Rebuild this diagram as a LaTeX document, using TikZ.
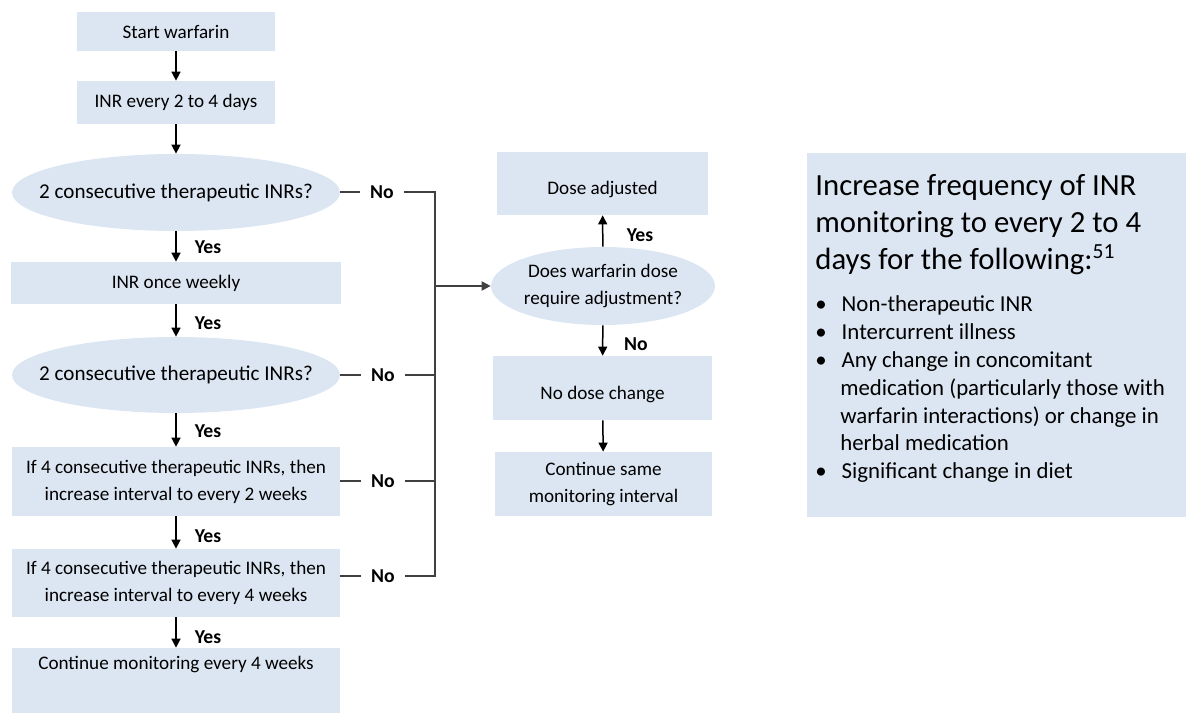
\documentclass[tikz,border=0pt]{standalone}
\usepackage{fontspec}
\setmainfont{Carlito}
\usepackage{enumitem}
\usetikzlibrary{shapes.geometric, arrows.meta}
\definecolor{boxblue}{HTML}{DCE6F2}
\definecolor{linegray}{HTML}{404040}

\begin{document}
\begin{tikzpicture}[x=0.2mm, y=-0.2mm,
    flowbox/.style={rectangle, fill=boxblue, inner sep=0pt, align=center, font=\fontsize{10.9}{15.4}\selectfont},
    decision/.style={ellipse, fill=boxblue, inner sep=0pt, align=center, font=\fontsize{12}{15.9}\selectfont},
    flowarrow/.style={line width=0.3mm, -{Triangle[length=1.8mm, width=1.8mm]}},
    noline/.style={linegray, line width=0.4mm},
    answer/.style={font=\bfseries\fontsize{11.2}{12}\selectfont},
    nolabel/.style={answer, fill=white, inner xsep=2mm, inner ysep=0pt, text=black}]

    \useasboundingbox (0,0) rectangle (1186,713);

    % Main column
    \node[flowbox, minimum width=39.6mm, minimum height=7.8mm] (start) at (176,31.5) {Start warfarin};
    \node[flowbox, minimum width=39.6mm, minimum height=8.6mm] (inr) at (176,102.5) {INR every 2 to 4 days};
    \node[decision, minimum width=65.6mm, minimum height=15.4mm] (q1) at (176,192.5) {\makebox[0pt]{2 consecutive therapeutic INRs?}};
    \node[flowbox, minimum width=66mm, minimum height=8.4mm] (weekly) at (176,283) {INR once weekly};
    \node[decision, minimum width=65.6mm, minimum height=15.2mm] (q2) at (176,375) {\makebox[0pt]{2 consecutive therapeutic INRs?}};
    \node[flowbox, minimum width=65.6mm, minimum height=13.8mm] (two) at (176,481.5) {If 4 consecutive therapeutic INRs, then\\increase interval to every 2 weeks};
    \node[flowbox, minimum width=65.6mm, minimum height=13.6mm] (four) at (176,583) {If 4 consecutive therapeutic INRs, then\\increase interval to every 4 weeks};
    \node[flowbox, minimum width=65.6mm, minimum height=13mm] (monthly) at (176,680.5) {Continue monitoring every 4 weeks\\\strut};

    % Dose column
    \node[decision, font=\fontsize{10.9}{15.9}\selectfont, minimum width=44mm, minimum height=15.6mm] (adjust) at (603,286) {Does warfarin dose\\require adjustment?};
    \node[flowbox, text height=14pt, minimum width=42.2mm, minimum height=12.6mm] (adjusted) at (602.5,183.5) {Dose adjusted};
    \node[flowbox, text height=15pt, minimum width=43.8mm, minimum height=12.8mm] (nochange) at (602.5,388) {No dose change};
    \node[flowbox, minimum width=43.4mm, minimum height=12.8mm] (same) at (603.5,484) {Continue same\\monitoring interval};

    % Info box
    \node[fill=boxblue, anchor=north west, inner sep=1.6mm] (info) at (807,153) {%
      \parbox[t][69.6mm][t]{72.6mm}{\raggedright
        \vspace*{2.6mm}
        {\fontsize{17.5}{21}\selectfont Increase frequency of INR monitoring to every 2 to 4 days for the following:\textsuperscript{51}\par}
        \fontsize{13}{15.9}\selectfont
        \begin{itemize}[label=\textbullet, align=left, leftmargin=5mm, labelwidth=2mm, labelsep=3mm,
                        itemsep=0pt, parsep=0pt, topsep=8pt, partopsep=0pt]
          \item Non-therapeutic INR
          \item Intercurrent illness
          \item Any change in concomitant medication (particularly those with warfarin interactions) or change in herbal medication
          \item Significant change in diet
        \end{itemize}}};

    % Yes arrows
    \draw[flowarrow] (start) -- (inr);
    \draw[flowarrow] (inr) -- (q1);
    \draw[flowarrow] (q1) -- (weekly);
    \draw[flowarrow] (weekly) -- (q2);
    \draw[flowarrow] (q2) -- (two);
    \draw[flowarrow] (two) -- (four);
    \draw[flowarrow] (four) -- (monthly);
    \draw[flowarrow] (adjust) -- (adjusted);
    \draw[flowarrow] (adjust) -- (nochange);
    \draw[flowarrow] (nochange) -- (same);

    \node[answer] (yes1) at (208,247) {Yes};
    \node[answer] (yes2) at (208,323) {Yes};
    \node[answer] (yes3) at (208,431) {Yes};
    \node[answer] (yes4) at (208,536) {Yes};
    \node[answer] (yes5) at (208,637) {Yes};
    \node[answer] (yes6) at (640,235) {Yes};
    \node[answer] (no6) at (636,344) {No};

    % No branches
    \coordinate (bustop) at (435,192.5);
    \coordinate (busbot) at (435,576);
    \draw[noline] (q1.east) -- node[nolabel, pos=0.44] (no1) {No} (bustop) -- (busbot)
        -- node[nolabel, pos=0.55] (no4) {No} (four.east |- busbot);
    \draw[noline] (q2.east) -- node[nolabel, pos=0.45] (no2) {No} (q2.east -| bustop);
    \draw[noline] (two.east) -- node[nolabel, pos=0.45] (no3) {No} (two.east -| bustop);
    \draw[noline, -{Triangle[length=1.8mm, width=1.8mm]}] (adjust.west -| bustop) -- (adjust.west);
\end{tikzpicture}
\end{document}
